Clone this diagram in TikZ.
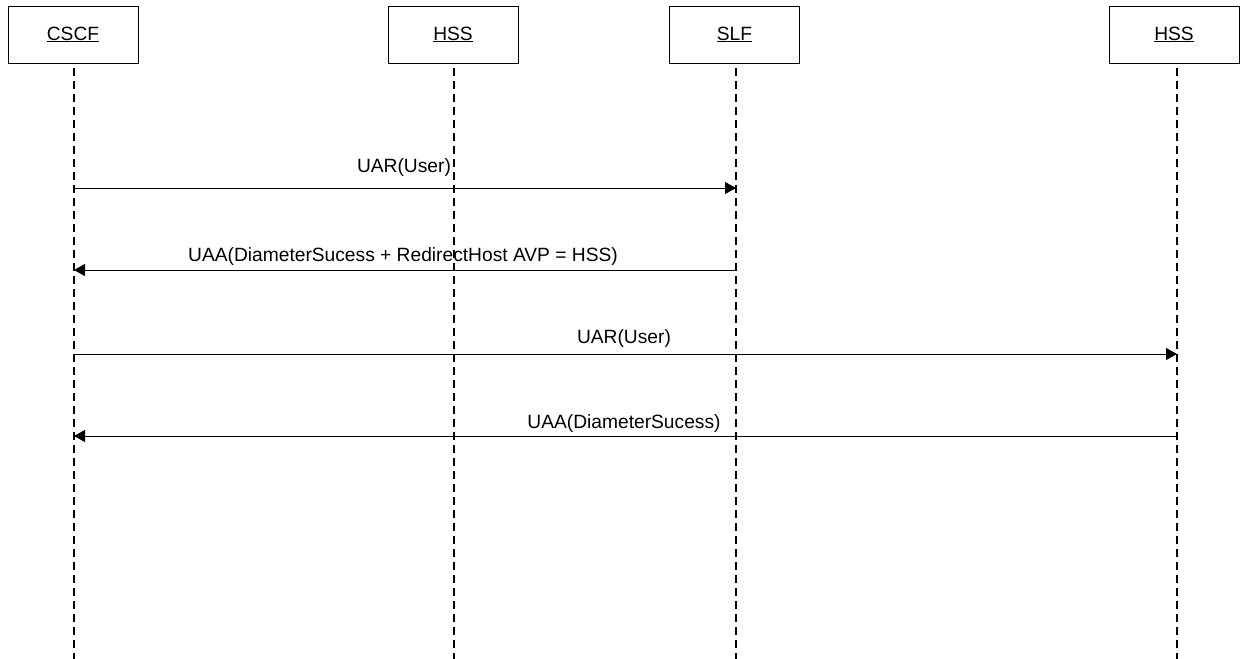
\documentclass[tikz,border=0pt]{standalone}
\usepackage{fontspec}
\setmainfont{Liberation Sans}
\usetikzlibrary{arrows.meta}
\begin{document}
\begin{tikzpicture}[x=1pt,y=-1pt,
  actor/.style={draw,line width=1pt,minimum width=130pt,minimum height=57pt,inner sep=0pt,font=\fontsize{19.2}{22}\selectfont},
  lifeline/.style={line width=2.4pt,dash pattern=on 8pt off 5pt,dash phase=8pt},
  msg/.style={line width=0.9pt,-{Triangle[length=11pt,width=12pt]}},
  lbl/.style={font=\fontsize{19.2}{22}\selectfont,anchor=base,inner sep=0pt}]
\useasboundingbox (0,0) rectangle (1243,659);
% actors
\node[actor] (cscf) at (73,34.5) {\underline{CSCF}};
\node[actor] (hss) at (453,34.5) {\underline{HSS}};
\node[actor] (slf) at (734.5,34.5) {\underline{SLF}};
\node[actor] (hssb) at (1174,34.5) {\underline{HSS}};
% lifeline ends
\coordinate (cscfend) at (74,659);
\coordinate (hssend) at (454,659);
\coordinate (slfend) at (736,659);
\coordinate (hssbend) at (1177,659);
\coordinate (cscftop) at (74,63);
\coordinate (hsstop) at (454,63);
\coordinate (slftop) at (736,63);
\coordinate (hssbtop) at (1177,63);
\draw[lifeline] (cscftop) -- (cscfend);
\draw[lifeline] (hsstop) -- (hssend);
\draw[lifeline] (slftop) -- (slfend);
\draw[lifeline] (hssbtop) -- (hssbend);
% message levels
\coordinate (y1) at (0,188);
\coordinate (y2) at (0,270);
\coordinate (y3) at (0,354);
\coordinate (y4) at (0,436);
\draw[msg] (cscftop |- y1) -- (slftop |- y1);
\draw[msg] (slftop |- y2) -- (cscftop |- y2);
\draw[msg] (cscftop |- y3) -- (hssbtop |- y3);
\draw[msg] (hssbtop |- y4) -- (cscftop |- y4);
% labels
\node[lbl] (l1) at (404,172) {UAR(User)};
\node[lbl] (l2) at (403,261) {UAA(DiameterSucess + RedirectHost AVP = HSS)};
\node[lbl] (l3) at (624,343) {UAR(User)};
\node[lbl] (l4) at (624,428) {UAA(DiameterSucess)};
\end{tikzpicture}
\end{document}
